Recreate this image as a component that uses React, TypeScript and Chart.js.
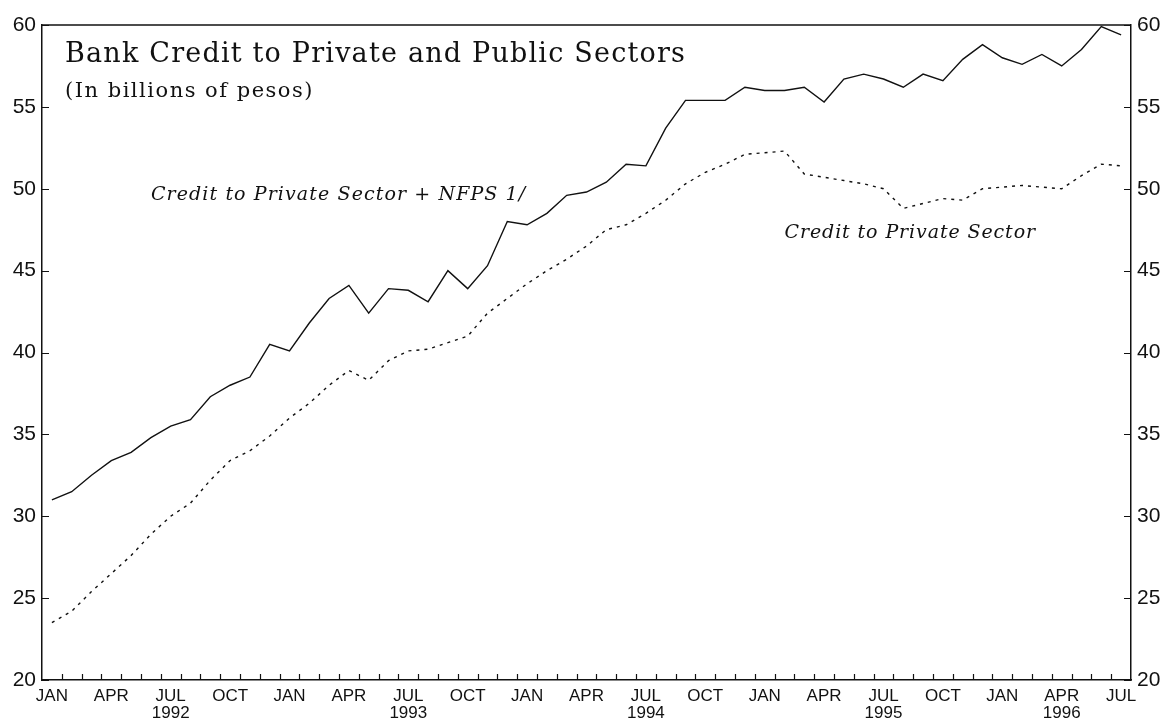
import React, { useEffect, useRef } from 'react';
import { Chart, registerables } from 'chart.js';

Chart.register(...registerables);

// ---------- data ----------
const categories = [
  'Jan 1992', 'Feb 1992', 'Mar 1992', 'Apr 1992', 'May 1992', 'Jun 1992',
  'Jul 1992', 'Aug 1992', 'Sep 1992', 'Oct 1992', 'Nov 1992', 'Dec 1992',
  'Jan 1993', 'Feb 1993', 'Mar 1993', 'Apr 1993', 'May 1993', 'Jun 1993',
  'Jul 1993', 'Aug 1993', 'Sep 1993', 'Oct 1993', 'Nov 1993', 'Dec 1993',
  'Jan 1994', 'Feb 1994', 'Mar 1994', 'Apr 1994', 'May 1994', 'Jun 1994',
  'Jul 1994', 'Aug 1994', 'Sep 1994', 'Oct 1994', 'Nov 1994', 'Dec 1994',
  'Jan 1995', 'Feb 1995', 'Mar 1995', 'Apr 1995', 'May 1995', 'Jun 1995',
  'Jul 1995', 'Aug 1995', 'Sep 1995', 'Oct 1995', 'Nov 1995', 'Dec 1995',
  'Jan 1996', 'Feb 1996', 'Mar 1996', 'Apr 1996', 'May 1996', 'Jun 1996',
  'Jul 1996',
];

// Credit to Private Sector + NFPS (solid)
const creditPrivatePlusNFPS = [
  31.0, 31.5, 32.5, 33.4, 33.9, 34.8, 35.5, 35.9, 37.3, 38.0, 38.5, 40.5,
  40.1, 41.8, 43.3, 44.1, 42.4, 43.9, 43.8, 43.1, 45.0, 43.9, 45.3, 48.0,
  47.8, 48.5, 49.6, 49.8, 50.4, 51.5, 51.4, 53.7, 55.4, 55.4, 55.4, 56.2,
  56.0, 56.0, 56.2, 55.3, 56.7, 57.0, 56.7, 56.2, 57.0, 56.6, 57.9, 58.8,
  58.0, 57.6, 58.2, 57.5, 58.5, 59.9, 59.4,
];

// Credit to Private Sector (dotted)
const creditPrivate = [
  23.5, 24.2, 25.4, 26.5, 27.6, 28.9, 30.0, 30.8, 32.2, 33.4, 34.0, 34.9,
  36.0, 36.9, 38.0, 38.9, 38.3, 39.5, 40.1, 40.2, 40.6, 41.0, 42.4, 43.3,
  44.2, 45.0, 45.7, 46.5, 47.5, 47.8, 48.5, 49.3, 50.3, 51.0, 51.5, 52.1,
  52.2, 52.3, 50.9, 50.7, 50.5, 50.3, 50.0, 48.8, 49.1, 49.4, 49.3, 50.0,
  50.1, 50.2, 50.1, 50.0, 50.8, 51.5, 51.4,
];

const quarterTickLabels: Record<string, string> = {
  Jan: 'JAN',
  Apr: 'APR',
  Jul: 'JUL',
  Oct: 'OCT',
};

const yearTickLabels: Record<string, string> = {
  'Jul 1992': '1992',
  'Jul 1993': '1993',
  'Jul 1994': '1994',
  'Jul 1995': '1995',
  'Apr 1996': '1996',
};

const yMin = 20;
const yMax = 60;
const yStep = 5;

const titleText = 'Bank Credit to Private and Public Sectors';
const subtitleText = '(In billions of pesos)';
const seriesNames = ['Credit to Private Sector + NFPS 1/', 'Credit to Private Sector'];
// label anchors in data coordinates: [category index, value]
const seriesLabelAnchors: [number, number][] = [
  [5, 49.3],
  [37, 47.0],
];

// ---------- plugin: frame, inward ticks, texts ----------
const decorPlugin = {
  id: 'decor',
  afterDraw(chart: any) {
    const { ctx, chartArea: a, scales } = chart;
    const xs = scales.x;
    const ys = scales.y;
    ctx.save();
    ctx.strokeStyle = '#111';
    ctx.lineWidth = 1.5;
    ctx.beginPath();
    ctx.moveTo(a.left, a.top);
    ctx.lineTo(a.right, a.top);
    ctx.stroke();

    ctx.lineWidth = 1.2;
    // x ticks at category boundaries, pointing up into the plot
    const n = xs.ticks.length;
    ctx.beginPath();
    for (let i = 1; i < n; i++) {
      const px = Math.round((xs.getPixelForTick(i - 1) + xs.getPixelForTick(i)) / 2) + 0.5;
      ctx.moveTo(px, a.bottom);
      ctx.lineTo(px, a.bottom - 6);
    }
    // y ticks, inward on both sides
    ys.ticks.forEach((t: any) => {
      const py = Math.round(ys.getPixelForValue(t.value)) + 0.5;
      ctx.moveTo(a.left, py);
      ctx.lineTo(a.left + 7, py);
      ctx.moveTo(a.right, py);
      ctx.lineTo(a.right - 7, py);
    });
    ctx.stroke();

    // title
    ctx.fillStyle = '#111';
    ctx.textAlign = 'left';
    ctx.textBaseline = 'alphabetic';
    ctx.font = '27px "DejaVu Serif"';
    ctx.letterSpacing = '1.2px';
    ctx.fillText(titleText, a.left + 23, a.top + 37);
    ctx.font = '21px "DejaVu Serif"';
    ctx.letterSpacing = '1.5px';
    ctx.fillText(subtitleText, a.left + 23, a.top + 72);

    // series labels
    ctx.font = 'italic 19px "DejaVu Serif"';
    const spacings = ['1.1px', '0.9px'];
    seriesNames.forEach((name, i) => {
      const [ci, v] = seriesLabelAnchors[i];
      ctx.letterSpacing = spacings[i];
      ctx.fillText(name, xs.getPixelForValue(ci), ys.getPixelForValue(v));
    });
    ctx.letterSpacing = '0px';
    ctx.restore();
  },
};

export default function App() {
  const canvasRef = useRef<HTMLCanvasElement | null>(null);

  useEffect(() => {
    document.body.style.margin = '0';
    const canvas = canvasRef.current;
    if (!canvas) return;

    const yAxisCommon = {
      min: yMin,
      max: yMax,
      grid: { display: false, drawTicks: false },
      border: { display: true, color: '#111', width: 1.5 },
      ticks: {
        stepSize: yStep,
        color: '#111',
        padding: 6,
        font: { family: '"Liberation Sans"', size: 21 },
      },
    };

    const chart = new Chart(canvas, {
      type: 'line',
      data: {
        labels: categories,
        datasets: [
          {
            label: seriesNames[0],
            data: creditPrivatePlusNFPS,
            borderColor: '#111',
            borderWidth: 1.4,
            pointRadius: 0,
            tension: 0,
            fill: false,
            yAxisID: 'y',
          },
          {
            label: seriesNames[1],
            data: creditPrivate,
            borderColor: '#111',
            borderWidth: 1.4,
            borderDash: [3, 5],
            pointRadius: 0,
            tension: 0,
            fill: false,
            yAxisID: 'y',
          },
        ],
      },
      options: {
        animation: false,
        responsive: true,
        maintainAspectRatio: false,
        layout: { padding: { top: 25, left: 0, right: 0, bottom: 0 } },
        plugins: {
          legend: { display: false },
          title: { display: false },
          tooltip: { enabled: false },
        },
        scales: {
          x: {
            type: 'category',
            offset: true,
            grid: { display: false, drawTicks: false },
            border: { display: true, color: '#111', width: 1.5 },
            afterFit: (s: any) => {
              s.height = 43;
            },
            ticks: {
              autoSkip: false,
              maxRotation: 0,
              minRotation: 0,
              padding: 8,
              color: '#111',
              font: { family: '"Liberation Sans"', size: 17, lineHeight: 1.0 },
              callback: (_v: any, index: number) => {
                const cat = categories[index];
                const m = cat.slice(0, 3);
                const q = quarterTickLabels[m];
                if (!q) return '';
                const yr = yearTickLabels[cat];
                return yr ? [q, yr] : q;
              },
            },
          },
          y: {
            ...yAxisCommon,
            position: 'left',
            afterFit: (s: any) => {
              s.width = 42;
            },
          },
          y1: {
            ...yAxisCommon,
            position: 'right',
            afterFit: (s: any) => {
              s.width = 39;
            },
          },
        },
      } as any,
      plugins: [decorPlugin],
    });

    return () => chart.destroy();
  }, []);

  return (
    <div style={{ position: 'relative', width: '1170px', height: '723px', background: '#fff' }}>
      <canvas ref={canvasRef} />
    </div>
  );
}
